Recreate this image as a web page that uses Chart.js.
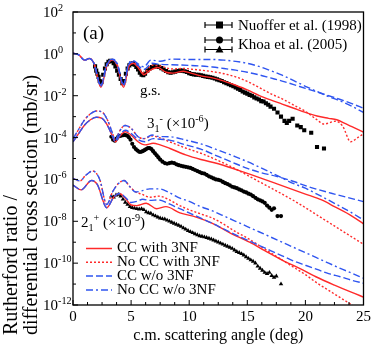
<!DOCTYPE html>
<html>
<head>
<meta charset="utf-8">
<script src="https://cdn.jsdelivr.net/npm/chart.js@4.4.1/dist/chart.umd.min.js"></script>
<style>
  body { margin: 0; background: #fff; }
  canvas { display: block; }
</style>
</head>
<body>
<canvas id="chart" width="374" height="347"></canvas>
<script>
// values are [angle (deg), log10 of ratio / cross section]
const gsCCwith3NF = [[0,0.03],[0.5,-0.05],[1,-0.3],[1.4,-0.22],[1.8,-0.45],[2.4,-1.6],[2.9,-0.6],[3.4,-0.3],[3.8,-0.55],[4.35,-1.6],[4.8,-0.6],[5.2,-0.45],[5.6,-0.65],[6.1,-1.0],[6.6,-0.8],[7.3,-0.65],[8,-0.88],[8.6,-0.92],[9.5,-0.83],[10,-0.9],[11,-1.05],[12,-1.15],[13,-1.3],[14,-1.5],[15,-1.72],[16,-1.98],[17,-2.2],[18,-2.4],[19,-2.6],[20,-2.8],[21,-2.97],[22,-3.08],[22.7,-3.15],[23.5,-3.35],[24,-3.48],[25,-3.74]];
const gsNoCCwith3NF = [[0,0.03],[0.5,-0.05],[1,-0.3],[1.4,-0.22],[1.8,-0.45],[2.4,-1.55],[2.9,-0.55],[3.4,-0.27],[3.8,-0.5],[4.35,-1.55],[4.8,-0.55],[5.2,-0.4],[5.6,-0.6],[6.1,-0.9],[6.8,-0.55],[7.5,-0.58],[8.5,-0.72],[9.5,-0.7],[10.5,-0.75],[12,-0.85],[13,-0.95],[14,-1.1],[15,-1.32],[16,-1.6],[17,-1.9],[18,-2.15],[19,-2.45],[20,-2.75],[21,-3.15],[21.6,-3.35],[22.6,-3.22],[23.2,-3.45],[23.9,-4.2],[24.5,-4.0],[25,-3.82]];
const gsCCwo3NF = [[0,0.03],[0.5,-0.05],[1,-0.3],[1.4,-0.22],[1.8,-0.45],[2.4,-1.55],[2.9,-0.55],[3.4,-0.27],[3.8,-0.5],[4.35,-1.5],[4.8,-0.5],[5.2,-0.38],[5.6,-0.55],[6.1,-0.75],[6.8,-0.45],[7.5,-0.5],[8.5,-0.52],[10,-0.55],[11,-0.58],[12,-0.63],[13,-0.7],[14,-0.78],[15,-0.88],[16,-1.0],[17,-1.15],[18,-1.3],[19,-1.47],[20,-1.65],[21,-1.82],[22,-2.0],[23,-2.18],[24,-2.38],[25,-2.6]];
const gsNoCCwo3NF = [[0,0.03],[0.5,-0.05],[1,-0.3],[1.4,-0.22],[1.8,-0.45],[2.4,-1.5],[2.9,-0.5],[3.4,-0.25],[3.8,-0.45],[4.35,-1.45],[4.8,-0.45],[5.2,-0.33],[5.6,-0.48],[6.1,-0.62],[6.7,-0.3],[7.5,-0.35],[8.5,-0.25],[10,-0.27],[11,-0.27],[12,-0.27],[13,-0.3],[14,-0.36],[15,-0.45],[16,-0.6],[17,-0.8],[18,-1.02],[19,-1.28],[20,-1.55],[21,-1.8],[22,-2.04],[23,-2.25],[24,-2.5],[25,-2.8]];

const octCCwith3NF = [[0,-4.2],[0.5,-3.8],[1,-3.4],[1.5,-3.15],[2,-3.03],[2.5,-3.08],[3,-3.45],[3.4,-3.95],[3.65,-4.2],[4,-3.95],[4.5,-3.72],[5,-3.88],[5.6,-4.2],[6.2,-4.35],[6.9,-4.27],[7.5,-4.35],[8.3,-4.51],[9.7,-4.83],[11,-5.05],[12.5,-5.25],[15,-5.71],[17.5,-6.2],[20,-6.7],[21.4,-6.98],[22.5,-7.3],[24,-7.75],[25,-8.12]];
const octNoCCwith3NF = [[0,-4.05],[0.5,-3.6],[1,-3.15],[1.5,-2.87],[2,-2.73],[2.5,-2.78],[3,-3.2],[3.4,-3.8],[3.65,-4.12],[4,-3.7],[4.5,-3.42],[5,-3.56],[5.6,-3.96],[6.1,-4.05],[6.8,-3.92],[7.4,-4.0],[8.3,-4.2],[9.7,-4.5],[11,-4.75],[12.5,-5.1],[14,-5.5],[15,-5.8],[16,-6.1],[17.5,-6.55],[18.9,-6.98],[20,-7.35],[21,-7.7],[22,-8.05],[23,-8.4],[24,-8.75],[25,-9.1]];
const octCCwo3NF = [[0,-4.2],[0.5,-3.8],[1,-3.4],[1.5,-3.15],[2,-3.03],[2.5,-3.08],[3,-3.45],[3.4,-3.95],[3.65,-4.2],[4,-3.9],[4.5,-3.65],[5,-3.8],[5.6,-4.1],[6.2,-4.2],[6.9,-4.05],[7.5,-4.08],[8.3,-4.12],[9.7,-4.35],[11,-4.55],[12.5,-4.9],[14,-5.25],[15,-5.47],[16,-5.65],[17.5,-5.85],[19,-6.1],[20,-6.3],[22.5,-6.7],[25,-7.06]];
const octNoCCwo3NF = [[0,-4.05],[0.5,-3.6],[1,-3.15],[1.5,-2.87],[2,-2.73],[2.5,-2.78],[3,-3.2],[3.4,-3.8],[3.65,-4.12],[4,-3.7],[4.5,-3.42],[5,-3.56],[5.6,-3.96],[6.1,-4.05],[6.8,-3.88],[7.4,-3.95],[8.3,-3.96],[9.7,-4.12],[11,-4.3],[12.5,-4.6],[14,-4.92],[15,-5.15],[16,-5.4],[17.5,-5.8],[19,-6.2],[20,-6.42],[21,-6.7],[22.5,-7.14],[24,-7.6],[25,-7.94]];

const quadCCwith3NF = [[0,-6.27],[0.7,-6.5],[1.6,-6.05],[2.1,-6.25],[2.9,-7.35],[3.5,-6.85],[4,-6.67],[4.5,-6.9],[5,-7.22],[5.5,-7.25],[6.3,-7.14],[7.2,-7.4],[8,-7.3],[9.2,-7.6],[10.6,-7.8],[12,-8.1],[13.5,-8.55],[15.2,-9.0],[16.5,-9.4],[18,-9.85],[19.5,-10.25],[20.9,-10.65],[22.5,-11.05],[24,-11.4],[25,-11.62]];
const quadNoCCwith3NF = [[0,-5.95],[0.6,-6.07],[1.1,-5.8],[1.7,-5.6],[2.3,-6.0],[2.9,-7.2],[3.4,-6.6],[3.9,-6.2],[4.4,-6.05],[4.9,-6.35],[5.4,-6.6],[5.9,-6.7],[6.6,-6.85],[7.4,-6.8],[8.2,-6.95],[9,-7.2],[10,-7.45],[11,-7.65],[12,-7.85],[13,-8.15],[14,-8.5],[15,-8.8],[16,-9.15],[17,-9.5],[18,-9.85],[19,-10.2],[20,-10.55],[21,-10.95],[22,-11.3],[23,-11.65],[24,-12.0],[25,-12.35]];
const quadCCwo3NF = [[0,-6.27],[0.7,-6.5],[1.6,-6.05],[2.1,-6.25],[2.9,-7.35],[3.5,-6.85],[4,-6.67],[4.5,-6.85],[5,-7.1],[5.5,-7.05],[6,-6.95],[6.6,-7.0],[7.4,-6.98],[8.2,-7.15],[9,-7.35],[10,-7.6],[11,-7.85],[12,-8.1],[13,-8.38],[14,-8.65],[15,-8.9],[16,-9.15],[17,-9.4],[18,-9.65],[19,-9.9],[20,-10.1],[21,-10.3],[22,-10.5],[23,-10.65],[24,-10.82],[25,-10.96]];
const quadNoCCwo3NF = [[0,-5.95],[0.6,-6.07],[1.1,-5.8],[1.7,-5.6],[2.3,-6.0],[2.9,-7.2],[3.4,-6.6],[3.9,-6.2],[4.4,-6.05],[4.9,-6.35],[5.4,-6.6],[5.9,-6.55],[6.6,-6.45],[7.4,-6.45],[8.2,-6.6],[9,-6.85],[10,-7.05],[11,-7.3],[12,-7.5],[13,-7.75],[14,-8.0],[15,-8.25],[16,-8.5],[17,-8.75],[18,-9.0],[19,-9.25],[20,-9.5],[21,-9.75],[22,-10.0],[23,-10.25],[24,-10.48],[25,-10.72]];

// measured points
const gsNuoffer = [[1.9,-0.6],[2.0,-0.8],[2.1,-0.95],[2.2,-1.1],[2.3,-1.3],[2.45,-1.35],[2.6,-1.0],[2.75,-0.7],[2.9,-0.5],[3.05,-0.38],[3.2,-0.33],[3.35,-0.35],[3.5,-0.45],[3.65,-0.6],[3.8,-0.8],[3.95,-1.0],[4.1,-1.2],[4.25,-1.4],[4.4,-1.3],[4.55,-0.95],[4.7,-0.7],[4.85,-0.55],[5.0,-0.48],[5.15,-0.45],[5.3,-0.52],[5.45,-0.62],[5.6,-0.75],[5.75,-0.9],[5.9,-1.0],[6.05,-1.02],[6.2,-0.95],[6.4,-0.8],[6.6,-0.7],[6.8,-0.63],[7.0,-0.6],[7.2,-0.6],[7.4,-0.62],[7.6,-0.68],[7.8,-0.75],[8.0,-0.82],[8.2,-0.88],[8.4,-0.9],[8.6,-0.88],[8.8,-0.85],[9.0,-0.82],[9.2,-0.8],[9.4,-0.8],[9.6,-0.83],[9.8,-0.87],[10.0,-0.92],[10.2,-0.96],[10.4,-0.98],[10.6,-1.0],[10.8,-1.0],[11.0,-1.02],[11.2,-1.05],[11.4,-1.08],[11.6,-1.1],[11.8,-1.12],[12.0,-1.14],[12.2,-1.18],[12.4,-1.22],[12.6,-1.26],[12.8,-1.3],[13.0,-1.36],[13.2,-1.4],[13.4,-1.45],[13.6,-1.5],[13.8,-1.55],[14.0,-1.6],[14.2,-1.67],[14.4,-1.72],[14.6,-1.8],[14.8,-1.85],[15.0,-1.9],[15.2,-1.96],[15.4,-2.0],[15.6,-2.08],[15.8,-2.13],[16.0,-2.18],[16.2,-2.26],[16.4,-2.28],[16.6,-2.36],[16.8,-2.43],[17.0,-2.52],[17.3,-2.62],[17.6,-2.8],[17.9,-3.0],[18.2,-3.2],[18.4,-3.3],[18.6,-3.2],[18.9,-3.1],[19.3,-3.42],[19.6,-3.5],[19.9,-3.65],[20.5,-3.77],[21.0,-4.45],[21.6,-4.52]];
const octKhoa = [[3.3,-3.96],[3.45,-4.1],[3.6,-4.15],[3.75,-4.05],[3.9,-3.95],[4.05,-3.92],[4.2,-3.9],[4.35,-3.88],[4.5,-3.88],[4.65,-3.9],[4.8,-3.98],[4.95,-4.1],[5.1,-4.3],[5.25,-4.45],[5.4,-4.55],[5.55,-4.62],[5.7,-4.68],[5.85,-4.68],[6.0,-4.65],[6.15,-4.6],[6.3,-4.55],[6.45,-4.5],[6.6,-4.5],[6.75,-4.55],[6.9,-4.65],[7.05,-4.75],[7.2,-4.85],[7.35,-4.95],[7.5,-5.05],[7.7,-5.15],[7.9,-5.22],[8.1,-5.25],[8.3,-5.22],[8.5,-5.2],[8.7,-5.22],[8.9,-5.28],[9.1,-5.32],[9.3,-5.35],[9.5,-5.38],[9.7,-5.4],[9.9,-5.42],[10.1,-5.45],[10.3,-5.5],[10.5,-5.55],[10.7,-5.6],[10.9,-5.65],[11.1,-5.7],[11.3,-5.72],[11.5,-5.78],[11.7,-5.85],[11.9,-5.9],[12.1,-5.95],[12.3,-6.0],[12.5,-6.02],[12.7,-6.05],[12.9,-6.12],[13.1,-6.18],[13.3,-6.22],[13.5,-6.28],[13.7,-6.35],[13.9,-6.38],[14.1,-6.42],[14.3,-6.48],[14.5,-6.52],[14.7,-6.58],[14.9,-6.62],[15.1,-6.68],[15.3,-6.72],[15.5,-6.8],[15.7,-6.88],[15.9,-6.95],[16.1,-7.0],[16.3,-7.05],[16.5,-7.12],[16.7,-7.25],[16.9,-7.35],[17.1,-7.45],[17.3,-7.38],[17.6,-7.75],[17.9,-7.75]];
const quadKhoa = [[3.3,-6.8],[3.5,-6.85],[3.7,-6.75],[3.9,-6.72],[4.1,-6.8],[4.3,-6.95],[4.5,-7.1],[4.7,-7.2],[4.9,-7.3],[5.1,-7.35],[5.3,-7.38],[5.5,-7.4],[5.7,-7.42],[5.9,-7.4],[6.1,-7.45],[6.3,-7.55],[6.5,-7.6],[6.7,-7.62],[6.9,-7.7],[7.1,-7.75],[7.3,-7.8],[7.5,-7.85],[7.7,-7.88],[7.9,-7.9],[8.1,-7.95],[8.3,-8.0],[8.5,-8.05],[8.7,-8.1],[8.9,-8.15],[9.1,-8.2],[9.3,-8.25],[9.5,-8.32],[9.7,-8.38],[9.9,-8.45],[10.1,-8.5],[10.3,-8.55],[10.5,-8.6],[10.7,-8.65],[10.9,-8.7],[11.1,-8.72],[11.3,-8.75],[11.5,-8.78],[11.7,-8.82],[11.9,-8.85],[12.1,-8.9],[12.3,-8.95],[12.5,-9.0],[12.7,-9.05],[12.9,-9.1],[13.1,-9.15],[13.3,-9.2],[13.5,-9.25],[13.7,-9.3],[13.9,-9.38],[14.1,-9.45],[14.3,-9.5],[14.5,-9.55],[14.7,-9.62],[14.9,-9.7],[15.1,-9.78],[15.3,-9.85],[15.5,-9.92],[15.7,-10.0],[15.9,-10.15],[16.1,-10.25],[16.3,-10.35],[16.5,-10.45],[16.7,-10.5],[16.9,-10.45],[17.1,-10.6],[17.3,-10.68],[17.5,-10.62],[17.9,-11.0]];

const xTicks = [0, 5, 10, 15, 20, 25];
const yExponents = [2, 0, -2, -4, -6, -8, -10, -12];

const FONT = "'Liberation Serif', 'Times New Roman', serif";
const RED = '#ff2a2a';
const BLUE = '#2f55f0';

const toPts = (arr) => arr.map(([a, lg]) => ({ x: a, y: Math.pow(10, lg) }));

const curve = (label, arr, color, dash) => ({
  label: label,
  data: toPts(arr),
  showLine: true,
  borderColor: color,
  borderWidth: 1.4,
  borderDash: dash,
  pointRadius: 0,
  cubicInterpolationMode: 'monotone',
  fill: false,
});

const points = (label, arr, style, r) => ({
  label: label,
  data: toPts(arr),
  showLine: false,
  pointStyle: style,
  pointRadius: r,
  backgroundColor: '#000',
  borderColor: '#000',
  borderWidth: 0,
});

const DASH = [7, 3];
const DOT = [2, 2];
const DASHDOT = [7, 3, 2, 3];

// draws text with sub/superscript parts
function drawRich(ctx, parts, x, y, size) {
  let cx = x;
  ctx.textAlign = 'left';
  ctx.textBaseline = 'alphabetic';
  for (const p of parts) {
    const fs = p.s ? size * 0.68 : size;
    ctx.font = fs + 'px ' + FONT;
    let dy = 0;
    if (p.s === 'sup') dy = -size * 0.4;
    if (p.s === 'sub') dy = size * 0.25;
    ctx.fillText(p.t, cx, y + dy);
    cx += ctx.measureText(p.t).width;
  }
}

const decorations = {
  id: 'decorations',
  afterDraw(chart) {
    const ctx = chart.ctx;
    const a = chart.chartArea;
    const xs = chart.scales.x;
    const ys = chart.scales.y;
    ctx.save();
    ctx.strokeStyle = '#000';
    ctx.fillStyle = '#000';
    ctx.lineWidth = 1.3;
    ctx.setLineDash([]);
    ctx.strokeRect(a.left, a.top, a.right - a.left, a.bottom - a.top);

    // ticks, pointing inward
    ctx.lineWidth = 1;
    ctx.beginPath();
    for (let v = 0; v <= 25; v += 1.25) {
      const px = xs.getPixelForValue(v);
      const len = v % 5 === 0 ? 5 : 3;
      ctx.moveTo(px, a.bottom);
      ctx.lineTo(px, a.bottom - len);
    }
    for (let e = -12; e <= 2; e++) {
      const py = ys.getPixelForValue(Math.pow(10, e));
      const len = e % 2 === 0 ? 5 : 3;
      ctx.moveTo(a.left, py);
      ctx.lineTo(a.left + len, py);
    }
    ctx.stroke();

    // y labels 10^n
    for (const e of yExponents) {
      const py = ys.getPixelForValue(Math.pow(10, e));
      drawRich(ctx, [{ t: '10' }, { t: String(e), s: 'sup' }], 43, py + 5, 15);
    }

    // axis titles
    ctx.font = '16px ' + FONT;
    ctx.textAlign = 'center';
    ctx.textBaseline = 'middle';
    ctx.fillText('c.m. scattering angle (deg)', (a.left + a.right) / 2, 336);
    ctx.save();
    ctx.translate(0, 335);
    ctx.rotate(-Math.PI / 2);
    ctx.font = '20px ' + FONT;
    ctx.textAlign = 'left';
    ctx.textBaseline = 'alphabetic';
    ctx.fillText('Rutherford ratio /', 0, 17);
    ctx.fillText('differential cross section (mb/sr)', 0, 37);
    ctx.restore();

    // panel and group labels
    ctx.font = '19px ' + FONT;
    ctx.textAlign = 'left';
    ctx.textBaseline = 'alphabetic';
    ctx.fillText('(a)', 83, 39);
    ctx.font = '15px ' + FONT;
    ctx.fillText('g.s.', 140, 95);
    drawRich(ctx, [{ t: '3' }, { t: '1', s: 'sub' }, { t: '-', s: 'sup' }, { t: ' (×10' }, { t: '-6', s: 'sup' }, { t: ')' }], 147, 128, 15);
    drawRich(ctx, [{ t: '2' }, { t: '1', s: 'sub' }, { t: '+', s: 'sup' }, { t: ' (×10' }, { t: '-9', s: 'sup' }, { t: ')' }], 81, 227, 15);

    // data legend with error bars
    const bar = (y) => {
      ctx.beginPath();
      ctx.moveTo(205, y); ctx.lineTo(232, y);
      ctx.moveTo(205, y - 3); ctx.lineTo(205, y + 3);
      ctx.moveTo(232, y - 3); ctx.lineTo(232, y + 3);
      ctx.stroke();
    };
    ctx.lineWidth = 1.2;
    bar(25);
    ctx.fillRect(216, 21.5, 7, 7);
    bar(40);
    ctx.beginPath(); ctx.arc(219.5, 40, 3.5, 0, Math.PI * 2); ctx.fill();
    bar(49.5);
    ctx.beginPath(); ctx.moveTo(219.5, 45.5); ctx.lineTo(223.5, 52.5); ctx.lineTo(215.5, 52.5); ctx.closePath(); ctx.fill();
    ctx.font = '15px ' + FONT;
    ctx.textBaseline = 'middle';
    ctx.fillText('Nuoffer et al. (1998)', 238, 26);
    ctx.fillText('Khoa et al. (2005)', 238, 45);

    // model legend
    const rows = [
      ['CC with 3NF', RED, []],
      ['No CC with 3NF', RED, DOT],
      ['CC w/o 3NF', BLUE, DASH],
      ['No CC w/o 3NF', BLUE, DASHDOT],
    ];
    rows.forEach(([txt, col, dash], i) => {
      const y = 248.5 + i * 13.8;
      ctx.strokeStyle = col;
      ctx.lineWidth = 1.5;
      ctx.setLineDash(dash);
      ctx.beginPath(); ctx.moveTo(86, y); ctx.lineTo(112, y); ctx.stroke();
      ctx.setLineDash([]);
      ctx.fillStyle = '#000';
      ctx.fillText(txt, 117, y);
    });
    ctx.restore();
  },
};

new Chart(document.getElementById('chart'), {
  type: 'scatter',
  data: {
    datasets: [
      curve('No CC w/o 3NF g.s.', gsNoCCwo3NF, BLUE, DASHDOT),
      curve('CC w/o 3NF g.s.', gsCCwo3NF, BLUE, DASH),
      curve('No CC w/o 3NF 3-', octNoCCwo3NF, BLUE, DASHDOT),
      curve('CC w/o 3NF 3-', octCCwo3NF, BLUE, DASH),
      curve('No CC w/o 3NF 2+', quadNoCCwo3NF, BLUE, DASHDOT),
      curve('CC w/o 3NF 2+', quadCCwo3NF, BLUE, DASH),
      curve('CC with 3NF g.s.', gsCCwith3NF, RED, []),
      curve('No CC with 3NF g.s.', gsNoCCwith3NF, RED, DOT),
      curve('CC with 3NF 3-', octCCwith3NF, RED, []),
      curve('No CC with 3NF 3-', octNoCCwith3NF, RED, DOT),
      curve('CC with 3NF 2+', quadCCwith3NF, RED, []),
      curve('No CC with 3NF 2+', quadNoCCwith3NF, RED, DOT),
      points('Nuoffer et al. (1998)', gsNuoffer, 'rect', 2.9),
      points('Khoa et al. (2005) 3-', octKhoa, 'circle', 2.1),
      points('Khoa et al. (2005) 2+', quadKhoa, 'triangle', 2.6),
    ],
  },
  options: {
    responsive: false,
    devicePixelRatio: 1,
    animation: false,
    layout: { padding: { top: 12, right: 9, left: 0, bottom: 0 } },
    plugins: { legend: { display: false }, tooltip: { enabled: false } },
    scales: {
      x: {
        type: 'linear',
        min: 0,
        max: 25,
        afterBuildTicks: (scale) => { scale.ticks = xTicks.map((v) => ({ value: v })); },
        afterFit: (scale) => { scale.height = 42; },
        grid: { display: false, drawTicks: false },
        border: { display: false },
        ticks: { color: '#000', padding: 3, font: { family: FONT, size: 15 }, maxRotation: 0 },
      },
      y: {
        type: 'logarithmic',
        min: 1e-12,
        max: 1e2,
        afterFit: (scale) => { scale.width = 73; },
        grid: { display: false, drawTicks: false },
        border: { display: false },
        ticks: { display: false },
      },
    },
  },
  plugins: [decorations],
});
</script>
</body>
</html>
